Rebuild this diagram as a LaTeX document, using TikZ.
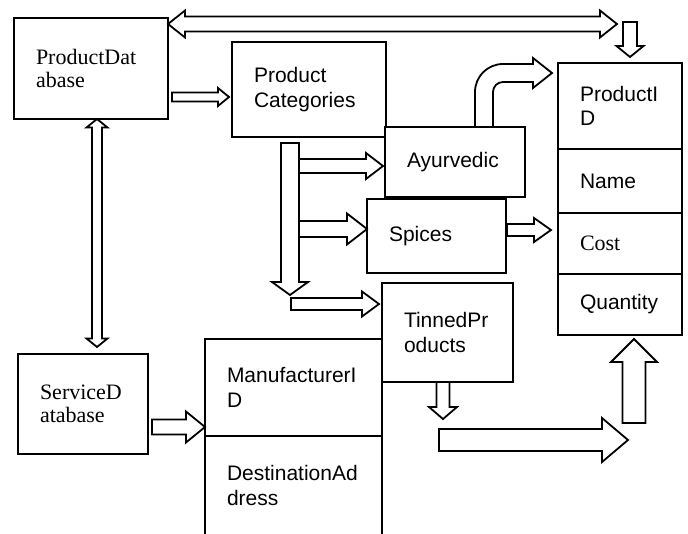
\documentclass[tikz,border=0pt]{standalone}
\usepackage{fontspec}
\newfontfamily\arialfont{Liberation Sans}
\newfontfamily\timesfont{Liberation Serif}
\usetikzlibrary{positioning,calc}

% block arrow: from, to, half shaft, half head, head length
\newcommand\fatarrow[5]{%
  \path #1 coordinate (fa-s) #2 coordinate (fa-e);
  \coordinate (fa-b) at ($(fa-e)!#5!(fa-s)$);
  \draw[fat] ($(fa-s)!#3!90:(fa-e)$) -- ($(fa-b)!#3!90:(fa-e)$)
    -- ($(fa-b)!#4!90:(fa-e)$) -- (fa-e) -- ($(fa-b)!#4!-90:(fa-e)$)
    -- ($(fa-b)!#3!-90:(fa-e)$) -- ($(fa-s)!#3!-90:(fa-e)$) -- cycle;}
\newcommand\fatarrowboth[5]{%
  \path #1 coordinate (fa-s) #2 coordinate (fa-e);
  \coordinate (fa-a) at ($(fa-s)!#5!(fa-e)$);
  \coordinate (fa-b) at ($(fa-e)!#5!(fa-s)$);
  \draw[fat] (fa-s) -- ($(fa-a)!#4!90:(fa-e)$) -- ($(fa-a)!#3!90:(fa-e)$)
    -- ($(fa-b)!#3!90:(fa-e)$) -- ($(fa-b)!#4!90:(fa-e)$) -- (fa-e)
    -- ($(fa-b)!#4!-90:(fa-e)$) -- ($(fa-b)!#3!-90:(fa-e)$)
    -- ($(fa-a)!#3!-90:(fa-e)$) -- ($(fa-a)!#4!-90:(fa-e)$) -- cycle;}

\begin{document}
\begin{tikzpicture}[x=1pt, y=-1pt,
    box/.style = {draw, fill=white, line width=1.8pt, outer sep=0pt, inner xsep=22pt, inner ysep=0pt,
      align=left, font=\arialfont\fontsize{21}{24.5}\selectfont},
    serif/.style = {font=\timesfont\fontsize{22}{23.5}\selectfont},
    fat/.style = {draw, fill=white, line width=1.8pt}]
  \useasboundingbox (0,0) rectangle (688,533);

  \node[box, serif, anchor=north west, text width=110pt, minimum height=101pt] (pdb) at (14,18) {ProductDat\\abase};
  \node[box, anchor=north west, text width=110pt, minimum height=95pt] (cat) at (232,42) {Product\\Categories};
  \node[box, anchor=north west, text width=96pt, minimum height=70pt] (ayur) at (385,127) {Ayurvedic};
  \node[box, anchor=north west, text width=95pt, minimum height=74pt] (spic) at (367,199) {Spices};
  \node[box, anchor=north west, text width=87pt, minimum height=99pt] (tin) at (382,283) {TinnedPr\\oducts};

  \node[box, anchor=north west, text width=80pt, minimum height=86pt] (pid) at (558,63) {ProductI\\D};
  \node[box, text width=80pt, minimum height=64pt, below=0pt of pid] (name) {Name};
  \node[box, serif, text width=80pt, minimum height=61pt, below=0pt of name] (cost) {Cost};
  \node[box, text width=80pt, minimum height=61pt, below=0pt of cost] (qty) {Quantity};

  \node[box, serif, anchor=north west, text width=86pt, minimum height=100pt] (sdb) at (18,354) {ServiceD\\atabase};
  \node[box, anchor=north west, text width=133pt, minimum height=97pt] (mfr) at (205,339) {ManufacturerI\\D};
  \node[box, text width=133pt, minimum height=99pt, below=0pt of mfr] (dest) {DestinationAd\\dress};

  % databases
  \fatarrowboth{($(pdb.north east)+(0,6)$)}{(617,24)}{7.5pt}{13.5pt}{17pt}
  \fatarrow{(630,22)}{($(pid.north)+(10,-6)$)}{7pt}{13.5pt}{11pt}
  \fatarrow{($(pdb.east)+(4,28.5)$)}{($(cat.west)+(-3,7.5)$)}{4.5pt}{9pt}{11pt}
  \fatarrowboth{($(pdb.south)+(6,0)$)}{($(sdb.north)+(14,-7)$)}{5pt}{10.5pt}{8.5pt}
  \fatarrow{($(sdb.east)+(4,23)$)}{($(mfr.south west)+(0,-9)$)}{7.5pt}{15.5pt}{19pt}

  % categories
  \coordinate (cd) at ($(cat.south west)+(58,6)$);
  \fatarrow{(cd)}{($(cd)+(0,152)$)}{9pt}{18pt}{13pt}
  \fatarrow{($(cd)+(9,23)$)}{($(ayur.west)+(-2,4)$)}{7pt}{13pt}{17pt}
  \fatarrow{($(cd)+(9,86)$)}{($(spic.west)+(0,-7)$)}{8pt}{15.5pt}{20pt}
  \fatarrow{($(cd)+(1,161)$)}{($(tin.north west)+(-3,21)$)}{6pt}{12.5pt}{17pt}

  % to the product table
  \coordinate (ay) at ($(ayur.north west)+(90,0)$);
  \draw[fat] (ay) -- ++(0,-35) .. controls +(0,-15.5) and +(-15.5,0) .. ++(28,-28)
    -- ++(30,0) -- ++(0,-6) -- ++(19,15) -- ++(-19,15) -- ++(0,-6) -- ++(-30,0)
    .. controls +(-5.5,0) and +(0,-5.5) .. ++(-10,10) -- ++(0,35) -- cycle;
  \fatarrow{($(spic.east)+(1,-6)$)}{($(cost.west)+(-7,-13.5)$)}{6pt}{12pt}{17pt}
  \fatarrow{($(tin.south)+(-4.5,0)$)}{($(tin.south)+(-4.5,37)$)}{6.5pt}{14pt}{12pt}
  \coordinate (lo) at ($(tin.south)+(-8.5,58)$);
  \fatarrow{(lo)}{($(lo)+(189,0)$)}{11pt}{22pt}{26pt}
  \fatarrow{(634,423)}{($(qty.south)+(14,4)$)}{11.5pt}{23pt}{23pt}
\end{tikzpicture}
\end{document}
